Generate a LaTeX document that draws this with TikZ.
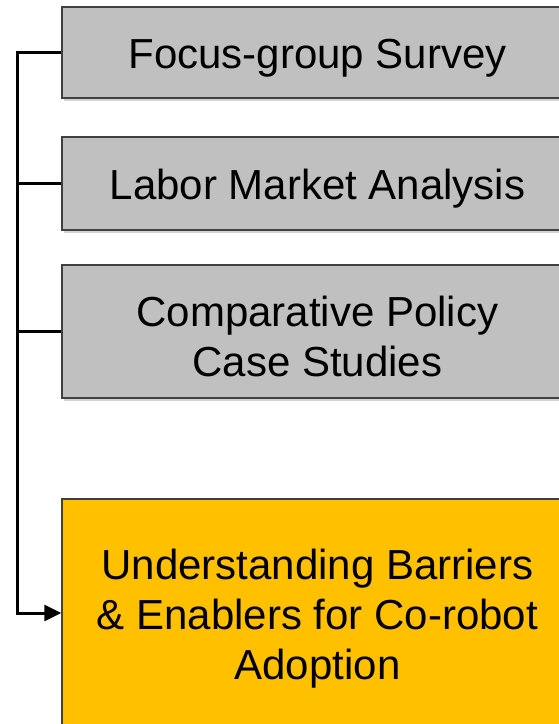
\documentclass[tikz,border=0pt]{standalone}
\usepackage{fontspec}
\setmainfont{Liberation Sans}
\usepackage{tikz}
\usetikzlibrary{arrows.meta}
\usetikzlibrary{shadows}

\definecolor{boxgray}{HTML}{C0C0C0}
\definecolor{boxorange}{HTML}{FFC000}
\definecolor{edgegray}{HTML}{404040}
\newcommand{\stagelift}{\rule{0pt}{41pt}}

\tikzset{
  stage/.style={draw=edgegray, line width=1.5pt, fill=boxgray, align=center,
    minimum width=511pt, font=\fontsize{42}{50}\selectfont,
    drop shadow={shadow xshift=2pt, shadow yshift=-2.5pt, opacity=0.35}},
  goal/.style={stage, fill=boxorange},
  link/.style={line width=3pt, black},
}

\begin{document}
\begin{tikzpicture}[x=1pt,y=-1pt]
\useasboundingbox (0,0) rectangle (559,724);
\clip (0,0) rectangle (559,724);
\node[stage, minimum height=91pt] (focus) at (317.5,52.5) {\stagelift Focus-group Survey};
\node[stage, minimum height=93pt] (labor) at (317.5,183.5) {\stagelift Labor Market Analysis};
\node[stage, minimum height=133pt] (policy) at (317.5,331.5) {\stagelift Comparative Policy\\Case Studies};
\node[goal, minimum height=228pt] (adopt) at (317.5,613) {\stagelift Understanding Barriers\\\& Enablers for Co-robot\\Adoption};
\coordinate (spine) at (17,0);
\draw[link, -{Triangle[length=17pt,width=16pt]}] (focus.west) -- (focus.west -| spine) |- (adopt.west);
\draw[link] (labor.west) -- (labor.west -| spine);
\draw[link] (policy.west) -- (policy.west -| spine);
\end{tikzpicture}
\end{document}
